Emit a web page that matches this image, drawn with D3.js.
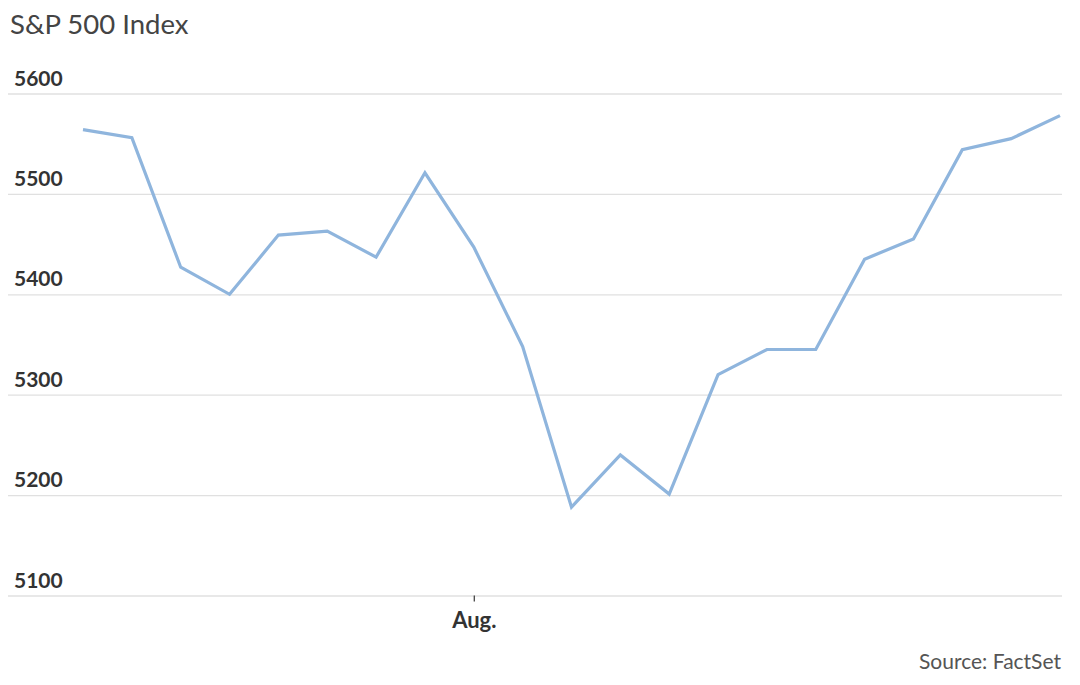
<!DOCTYPE html>
<html>
<head>
<meta charset="utf-8">
<script src="https://cdn.jsdelivr.net/npm/d3@7"></script>
<style>
  html, body { margin: 0; padding: 0; background: #fff; }
  svg { display: block; }
</style>
</head>
<body>
<svg id="chart" width="1080" height="685"></svg>
<script>
// Trading days, late July to mid August 2024
const dates = ["2024-07-22","2024-07-23","2024-07-24","2024-07-25","2024-07-26",
  "2024-07-29","2024-07-30","2024-07-31","2024-08-01","2024-08-02",
  "2024-08-05","2024-08-06","2024-08-07","2024-08-08","2024-08-09",
  "2024-08-12","2024-08-13","2024-08-14","2024-08-15","2024-08-16","2024-08-19"];
const closes = [5564, 5556, 5427, 5400, 5459, 5463, 5437, 5521, 5447, 5348,
  5188, 5240, 5201, 5320, 5345, 5345, 5435, 5455, 5544, 5555, 5578];
const yTicks = [5100, 5200, 5300, 5400, 5500, 5600];
const xTickDates = ["2024-08-01"];
const xTickLabels = ["Aug."];
const subtitle = "S&P 500 Index";
const source = "Source: FactSet";

const svg = d3.select("#chart");
const font = "Lato, 'Open Sans', sans-serif";

const x = d3.scalePoint().domain(dates).range([83, 1060]);
const y = d3.scaleLinear().domain([5100, 5600]).range([595.5, 93.5]);

// gridlines
const grid = svg.append("g")
  .attr("transform", "translate(8,0)")
  .call(d3.axisLeft(y).tickValues(yTicks).tickSize(-1054).tickFormat(""));
grid.select(".domain").remove();
grid.selectAll(".tick line").attr("stroke", "#e0e0e0").attr("stroke-width", 1.3);

// y labels
svg.append("g").selectAll("text").data(yTicks).join("text")
  .attr("x", 14).attr("y", d => y(d) - 8)
  .attr("font-family", font).attr("font-weight", 700).attr("font-size", 21)
  .attr("fill", "#333").text(d => d);

// x axis
const xa = svg.append("g")
  .attr("transform", `translate(0,${y(5100)})`)
  .call(d3.axisBottom(x).tickValues(xTickDates).tickSize(6).tickPadding(11)
    .tickFormat((d, i) => xTickLabels[i]));
xa.select(".domain").remove();
xa.selectAll(".tick line").attr("stroke", "#444").attr("stroke-width", 1.3);
xa.selectAll(".tick text").attr("font-family", font).attr("font-weight", 700)
  .attr("font-size", 22).attr("fill", "#333");

// line
const line = d3.line().x((d, i) => x(dates[i])).y(d => y(d));
svg.append("path").datum(closes)
  .attr("d", line).attr("fill", "none")
  .attr("stroke", "#8fb5dd").attr("stroke-width", 3.2)
  .attr("stroke-linejoin", "miter");

// subtitle
svg.append("text").attr("x", 10).attr("y", 34)
  .attr("font-family", font).attr("font-size", 27.5).attr("font-weight", 400)
  .attr("fill", "#444")
  .text(subtitle);

// source
svg.append("text").attr("x", 1061).attr("y", 669).attr("text-anchor", "end")
  .attr("font-family", font).attr("font-size", 21).attr("fill", "#555")
  .text(source);
</script>
</body>
</html>
